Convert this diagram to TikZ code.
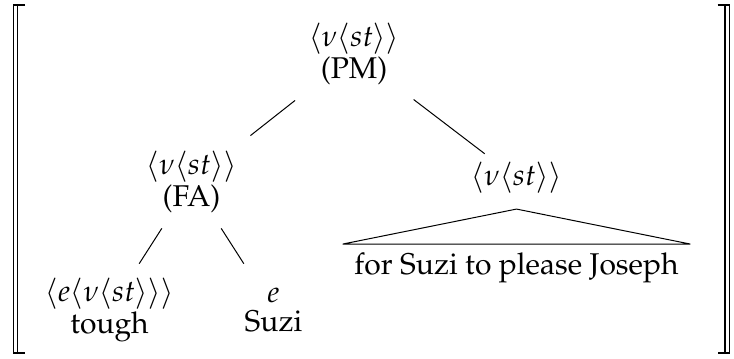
\documentclass[tikz,border=0pt]{standalone}
\usepackage[T1]{fontenc}
\usepackage{mathpazo}
\usetikzlibrary{positioning}

\begin{document}
\begin{tikzpicture}[x=1pt,y=1pt,level distance=51.2pt,
  every node/.style={align=center,font=\fontsize{12}{11.5}\selectfont},
  parent anchor=center,child anchor=center,
  edge from parent/.style={draw,shorten <=30pt,shorten >=30pt},
  level 1/.style={sibling distance=130pt},
  level 2/.style={sibling distance=65.6pt,edge from parent/.style={draw,shorten <=22pt,shorten >=22pt}}]
\useasboundingbox (0,0) rectangle (293.6,-143.2);
% double brackets round the tree
\draw[line width=.5pt] (10,-2) -- (5.3,-2) -- (5.3,-141.2) -- (10,-141.2) (7,-2) -- (7,-141.2);
\draw[line width=.5pt] (287,-2) -- (291.7,-2) -- (291.7,-141.2) -- (287,-141.2) (290,-2) -- (290,-141.2);
\node (pm) at (141.6,-21.6) {$\langle\nu\langle st\rangle\rangle$\\(PM)}
child { node (fa) {$\langle\nu\langle st\rangle\rangle$\\(FA)}
  child { node (tough) {$\langle e\langle\nu\langle st\rangle\rangle\rangle$\\tough} }
  child { node (suzi) {$e$\\Suzi} } }
child { node[inner ysep=6pt,yshift=1.6pt] (rest) {$\langle\nu\langle st\rangle\rangle$}
  edge from parent[shorten >=16pt] };
\node[below=14pt of rest,inner xsep=4.5pt] (clause) {for Suzi to please Joseph};
\draw (rest.south) -- (clause.north west) -- (clause.north east) -- cycle;
\end{tikzpicture}
\end{document}
